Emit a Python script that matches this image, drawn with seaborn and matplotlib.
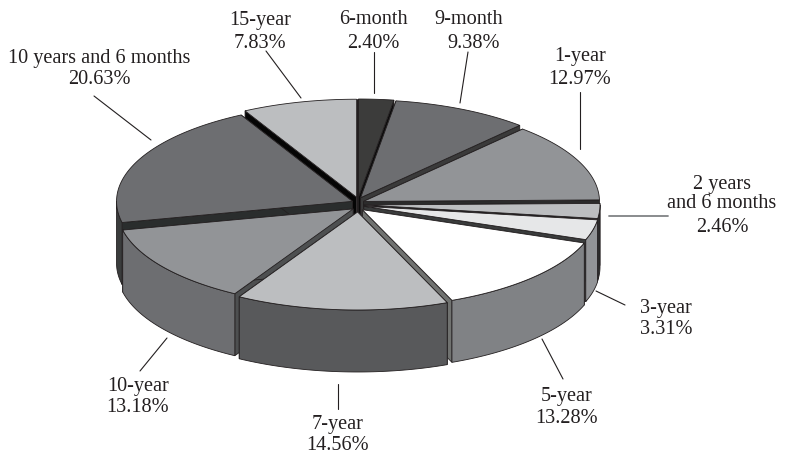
import numpy as np
import pandas as pd
import matplotlib
matplotlib.use('Agg')
import matplotlib.pyplot as plt
import seaborn as sns

# Chart values
labels = ['6-month', '9-month', '1-year', '2 years\nand 6 months', '3-year', '5-year',
          '7-year', '10-year', '10 years and 6 months', '15-year']
shares = [2.40, 9.38, 12.97, 2.46, 3.31, 13.28, 14.56, 13.18, 20.63, 7.83]

top_colors = ['#3c3c3b', '#6d6e71', '#929497', '#bcbec0', '#e6e7e8', '#ffffff',
              '#bcbec0', '#929497', '#6d6e71', '#bcbec0']
wall_colors = ['#3c3c3b', '#58595b', '#6d6e71', '#2e2e2e', '#929497', '#808285',
               '#58595b', '#6d6e71', '#3a3c3c', '#808285']
side_colors = ['#0c0c0c', '#3a3a3a', '#2b2b2b', '#222222', '#3a3c3c', '#707270',
               '#444444', '#4d4f50', '#2a2d2d', '#050505']

# Plot configurations
FIG_W = 7.85
FIG_H = 4.56
CX, CY = 358, 205.5
RX, RY = 236, 98
DEPTH = 62
EXPLODE_X = 6
EXPLODE_Y = 7.5
FONT_SIZE = 14.6
EDGE = '#231f20'
TEXT_SHIFT = 2

# label centres and leader lines, in pixels
name_pos = {
    '6-month': (373, 17), '9-month': (469, 18), '1-year': (580, 55),
    '2 years\nand 6 months': (722, 192), '3-year': (666, 307), '5-year': (567, 395),
    '7-year': (338, 423), '10-year': (138, 385), '10 years and 6 months': (99, 57),
    '15-year': (260, 19),
}
value_pos = {
    '6-month': (373, 41), '9-month': (474, 41), '1-year': (580, 78),
    '2 years\nand 6 months': (722, 226), '3-year': (666, 328), '5-year': (567, 417),
    '7-year': (338, 444), '10-year': (138, 406), '10 years and 6 months': (99, 78),
    '15-year': (260, 41),
}
leaders = {
    '6-month': ((374, 53), (374, 94)), '9-month': ((468, 53), (460, 104)),
    '1-year': ((580, 93), (580, 150)), '2 years\nand 6 months': ((609, 217), (668, 217)),
    '3-year': ((596, 292), (625, 306)), '5-year': ((542, 340), (563, 380)),
    '7-year': ((338, 385), (338, 410)), '10-year': ((167, 339), (140, 372)),
    '10 years and 6 months': ((94, 97), (151, 141)), '15-year': ((266, 52), (301, 99)),
}

df = pd.DataFrame({'label': labels, 'share': shares, 'top': top_colors,
                   'wall': wall_colors, 'side': side_colors})
df['end'] = df['share'].cumsum() / df['share'].sum() * 2 * np.pi
df['start'] = df['end'].shift(fill_value=0)
df['mid'] = (df['start'] + df['end']) / 2

sns.set_theme(style='white')
plt.rcParams['font.family'] = ['Liberation Serif', 'DejaVu Serif']

fig, ax = plt.subplots(figsize=(FIG_W, FIG_H), dpi=100)
ax.set_position([0, 0, 1, 1])
ax.set_xlim(0, 785)
ax.set_ylim(456, 0)
ax.axis('off')


def rim(theta, ox, oy):
    return ox + RX * np.sin(theta), oy - RY * np.cos(theta)


# back slices first so the front ones cover them
df['order'] = -np.cos(df['mid'])
for _, s in df.sort_values('order').iterrows():
    ox = CX + EXPLODE_X * np.sin(s['mid'])
    oy = CY - EXPLODE_Y * np.cos(s['mid'])

    # radial walls
    for a in (s['start'], s['end']):
        x, y = rim(a, ox, oy)
        ax.fill([ox, x, x, ox], [oy, y, y + DEPTH, oy + DEPTH],
                facecolor=s['side'], edgecolor=EDGE, linewidth=0.6, zorder=2)

    # outer wall, only the part facing the viewer
    lo, hi = max(s['start'], np.pi / 2), min(s['end'], 3 * np.pi / 2)
    if lo < hi:
        th = np.linspace(lo, hi, 80)
        x, y = rim(th, ox, oy)
        ax.fill(np.r_[x, x[::-1]], np.r_[y, y[::-1] + DEPTH],
                facecolor=s['wall'], edgecolor=EDGE, linewidth=0.6, zorder=2)

    # top face
    th = np.linspace(s['start'], s['end'], 120)
    x, y = rim(th, ox, oy)
    ax.fill(np.r_[ox, x], np.r_[oy, y], facecolor=s['top'], edgecolor=EDGE,
            linewidth=0.6, zorder=2)

for name, share in zip(labels, shares):
    x, y = name_pos[name]
    ax.text(x, y + TEXT_SHIFT, name, ha='center', va='center', fontsize=FONT_SIZE,
            color='#231f20', linespacing=0.95)
    x, y = value_pos[name]
    ax.text(x, y + TEXT_SHIFT, f'{share:.2f}%', ha='center', va='center', fontsize=FONT_SIZE,
            color='#231f20')
    (x0, y0), (x1, y1) = leaders[name]
    if name.startswith('2 years'):
        ax.plot([x0, x1], [y0, y1], color='#808285', linewidth=1.3)
    else:
        ax.plot([x0, x1], [y0, y1], color='#231f20', linewidth=0.8)

plt.savefig('out.png', dpi=100)
